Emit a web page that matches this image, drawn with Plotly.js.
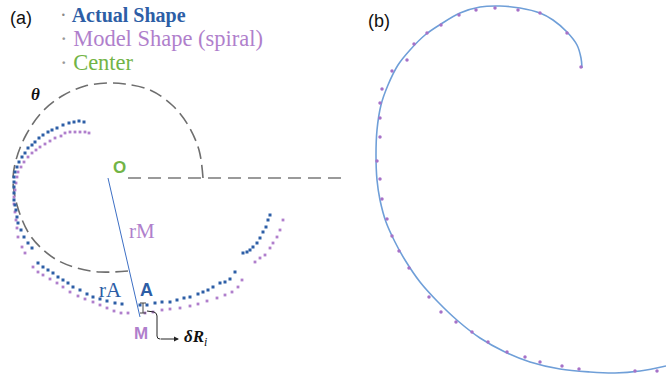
<!DOCTYPE html>
<html>
<head>
<meta charset="utf-8">
<script src="https://cdn.plot.ly/plotly-3.0.1.min.js"></script>
<style>html,body{margin:0;padding:0;background:#fff;}#chart{width:666px;height:377px;}</style>
</head>
<body>
<div id="chart"></div>
<script>
// ---- Panel (a): actual shape points (pixel-space) ----
const actualX = [84,79,74,69,63,57,52,48,43,39,35,32,28,25,22,19,17,15,14,14,14,14,14,15,16,17,18,21,24,28,32,
  38,43,48,53,58,63,68,73,80,87,93,100,107,115,122,
  140,147,155,162,170,177,184,190,198,203,208,213,220,225,230,235,
  243,247,250,253,257,260,263,266,268,270];
const actualY = [122,121,122,123,125,128,130,132,135,138,142,145,148,153,157,162,167,172,177,182,187,193,200,205,210,217,223,230,237,243,248,
  263,267,270,273,277,280,283,287,290,294,297,299,301,303,304,
  305,305,303,302,302,300,298,297,294,292,290,287,283,282,279,272,
  253,252,250,247,243,238,232,227,220,215];
// ---- Panel (a): model (spiral) points ----
const modelX = [89,85,80,75,70,65,61,55,50,45,40,36,32,28,24,21,18,17,16,15,14,14,15,16,17,18,22,25,
  33,38,43,50,57,63,70,78,85,93,100,107,114,121,128,
  145,153,162,170,180,190,198,207,217,225,232,238,242,
  255,260,265,270,273,277,280,283];
const modelY = [133,132,132,132,132,133,136,138,141,144,147,150,153,157,162,167,172,177,183,190,197,204,212,220,228,237,247,253,
  267,272,275,279,283,287,292,296,299,302,305,308,311,313,313,
  313,312,310,309,308,306,304,301,298,295,292,287,280,
  262,258,255,248,243,237,230,220];
// ---- Panel (a): center ----
const centerX = [108];
const centerY = [178];
// ---- Panel (a): theta arc (dashed) ----
const arcX = [203,199,188,172,150,125,108,85,62,42,26,16,13,17,28,40,57,77,100,128];
const arcY = [178,150,125,105,90,84,83,86,96,112,135,160,180,205,232,247,260,268,272,271];
// radius line O -> M
const radX = [centerX[0],140];
const radY = [centerY[0],317];
// reference horizontal line
const refX = [128,346];
const refY = [178,178];

// ---- Panel (b): fitted spiral curve ----
const curveX = [582,581,577,567,553,540,520,500,480,460,441,425,410,398,388,381,377,376,377,380,386,395,405,420,438,458,480,505,530,560,590,615,640,666];
const curveY = [68,58,45,32,20,13,8,6,7,13,24,35,50,65,85,105,130,155,180,200,222,242,260,282,302,321,338,352,362,369,372,373,371,366];
// ---- Panel (b): measured points ----
const ptsX = [581,567,540,518,495,476,459,441,427,414,407,392,382,380,380,380,377,380,382,387,392,399,409,429,441,456,472,488,507,525,540,562,579,635,657];
const ptsY = [67,33,13,10,8,10,15,25,33,44,60,71,89,103,118,137,161,179,199,219,236,251,268,297,312,322,332,342,352,357,362,366,369,371,371];

const blue = '#2d5ea6', purple = '#b07fcc', green = '#72b446';

const traces = [
  {x: arcX, y: arcY, mode: 'lines', line: {color: '#6e6e6e', width: 1.6, dash: '13px,6px', shape: 'spline'}, hoverinfo: 'skip'},
  {x: refX, y: refY, mode: 'lines', line: {color: '#9a9a9a', width: 1.8, dash: '13px,7px'}, hoverinfo: 'skip'},
  {x: radX, y: radY, mode: 'lines', line: {color: '#3d6fc4', width: 1}, hoverinfo: 'skip'},
  {x: modelX, y: modelY, mode: 'markers', marker: {color: purple, size: 2.8, symbol: 'square'}, name: 'Model Shape (spiral)'},
  {x: actualX, y: actualY, mode: 'markers', marker: {color: blue, size: 3, symbol: 'square'}, name: 'Actual Shape'},
  {x: curveX, y: curveY, mode: 'lines', line: {color: '#6f9fd8', width: 1.6, shape: 'spline'}, hoverinfo: 'skip'},
  {x: ptsX, y: ptsY, mode: 'markers', marker: {color: '#a672c8', size: 3.5}, hoverinfo: 'skip'}
];

const serif = "'Liberation Serif', 'DejaVu Serif', serif";
const sans = "'Liberation Sans', Arial, sans-serif";
function txt(x, y, text, color, size, family, xanchor) {
  return {x: x, y: y, xref: 'x', yref: 'y', text: text, showarrow: false,
    font: {color: color, size: size, family: family}, xanchor: xanchor || 'center', yanchor: 'middle'};
}
const annotations = [
  txt(8, 18, '(a)', '#111', 18, sans, 'left'),
  txt(366, 21, '(b)', '#111', 18, sans, 'left'),
  txt(58, 15, '<span style="color:#888">·</span> <b>Actual Shape</b>', blue, 20, serif, 'left'),
  txt(58, 38, '<span style="color:#999">·</span> Model Shape (spiral)', purple, 22.5, serif, 'left'),
  txt(58, 62, '<span style="color:#999">·</span> Center', green, 22.5, serif, 'left'),
  txt(35, 94, '<b><i>θ</i></b>', '#111', 17, serif),
  txt(119, 167, '<b>O</b>', green, 17, sans),
  txt(142, 231, 'rM', purple, 21, serif),
  txt(110, 290, 'rA', blue, 21, serif),
  txt(146, 290, '<b>A</b>', blue, 18, sans),
  txt(141, 333, '<b>M</b>', purple, 17, sans),
  txt(182, 338, '<b><i>δR</i></b><sub><i>i</i></sub>', '#111', 17, serif, 'left'),
  {x: 179, y: 339, ax: 159, ay: 339, xref: 'x', yref: 'y', axref: 'x', ayref: 'y', text: '', showarrow: true,
    arrowhead: 2, arrowsize: 1, arrowwidth: 1, arrowcolor: '#222'}
];
const shapes = [
  {type: 'path', xref: 'x', yref: 'y', path: 'M 147,311 L 154,312 Q 157,313 157,316 L 157,336 Q 157,339 160,339',
    line: {color: '#222', width: 1}},
  {type: 'line', xref: 'x', yref: 'y', x0: 143, y0: 303, x1: 143, y1: 313, line: {color: '#444', width: 1}},
  {type: 'line', xref: 'x', yref: 'y', x0: 140, y0: 303, x1: 146, y1: 303, line: {color: '#444', width: 1}},
  {type: 'line', xref: 'x', yref: 'y', x0: 140, y0: 313, x1: 146, y1: 313, line: {color: '#444', width: 1}}
];

const layout = {
  width: 666, height: 377,
  margin: {l: 0, r: 0, t: 0, b: 0},
  paper_bgcolor: '#fff', plot_bgcolor: '#fff',
  showlegend: false,
  xaxis: {range: [0, 666], visible: false, fixedrange: true},
  yaxis: {range: [377, 0], visible: false, fixedrange: true},
  annotations: annotations,
  shapes: shapes
};
Plotly.newPlot('chart', traces, layout, {displayModeBar: false, staticPlot: true});
</script>
</body>
</html>
